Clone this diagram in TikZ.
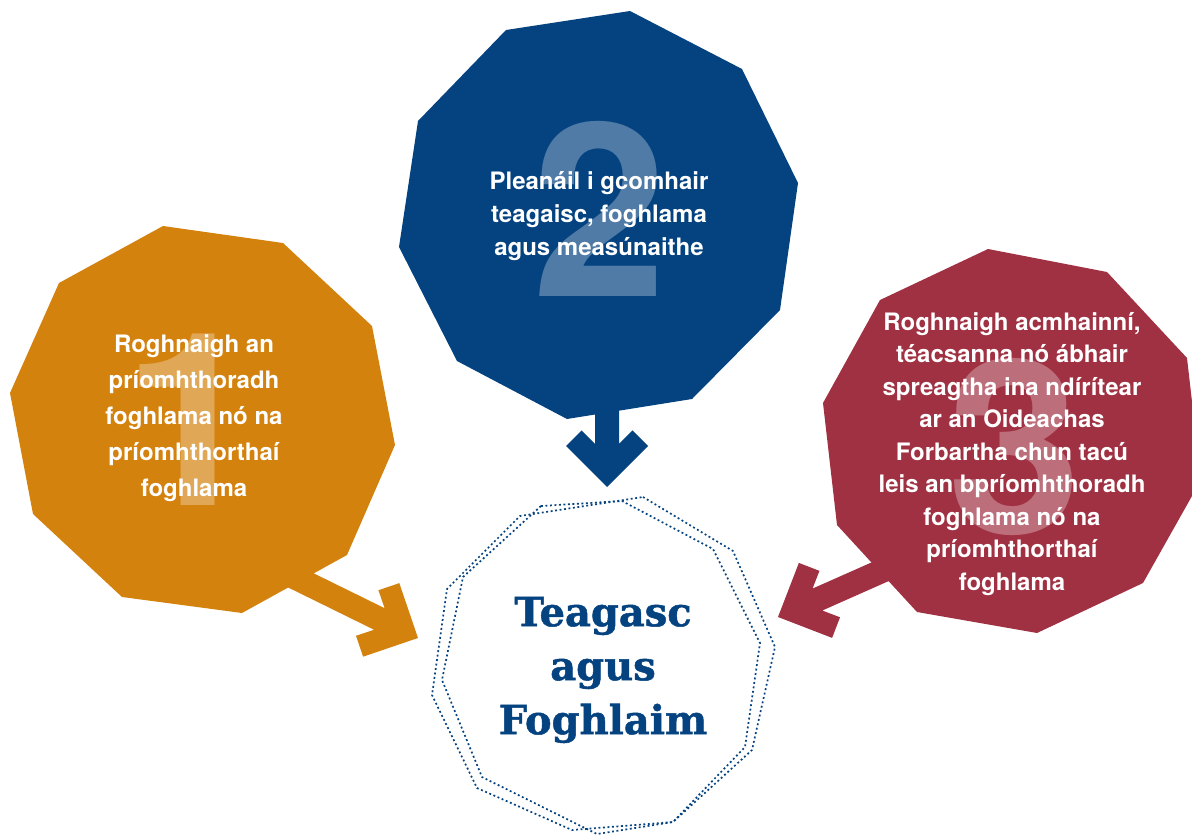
\documentclass[tikz,border=0pt]{standalone}
\usepackage{fontspec}
\setmainfont{TeX Gyre Heros}
\newfontfamily\slabfont{DejaVu Serif}[BoldFeatures={FakeBold=1.3}]
\definecolor{cOrange}{HTML}{D4820E}
\definecolor{cBlue}{HTML}{054380}
\definecolor{cRed}{HTML}{A03142}
\begin{document}
\begin{tikzpicture}[x=1pt,y=-1pt,
  steptext/.style={text=white, font=\bfseries\fontsize{24}{#1}\selectfont, align=center, inner sep=0pt},
  bignum/.style={text=white, text opacity=0.3, font=\bfseries\fontsize{242}{242}\selectfont, inner sep=0pt},
  dotline/.style={draw=cBlue, line width=1.7pt, dash pattern=on 1.9pt off 2.6pt},
  blockarrow/.pic={\fill[#1] (0,0) -- (-41,41) -- (-56.6,25.4) -- (-43.1,12) -- (-170,12)
      -- (-170,-12) -- (-43.1,-12) -- (-56.6,-25.4) -- (-41,-41) -- cycle;}
]
\useasboundingbox (0,0) rectangle (1192,835);
\clip (0,0) rectangle (1192,835);

% step polygons
\fill[cOrange] (163,226) -- (283,243) -- (372,326) -- (395,445) -- (347,555) -- (242,613)
  -- (122,597) -- (33,514) -- (10,393) -- (59,283) -- cycle;
\fill[cBlue] (630,11) -- (742,69) -- (798,183) -- (780,310) -- (692,399) -- (567,419)
  -- (457,361) -- (399,247) -- (418,121) -- (506,30) -- cycle;
\fill[cRed] (988,249) -- (1107,272) -- (1187,358) -- (1201,480) -- (1143,583) -- (1037,633)
  -- (917,612) -- (837,525) -- (823,403) -- (880,300) -- cycle;

% arrow tips
\coordinate (t1) at (418,638);
\coordinate (t2) at (607,487);
\coordinate (t3) at (778,617);
\pic[rotate=-26.2] at (t1) {blockarrow=cOrange};
\pic[rotate=-90] at (t2) {blockarrow=cBlue};
\pic[rotate=203.9] at (t3) {blockarrow=cRed};

% big numerals
\node[bignum] (n1) at (191,420) {1};
\node[bignum] (n2) at (600,209) {2};
\node[bignum] (n3) at (1015,447) {3};

% step texts
\node[steptext=36] (s1) at (194,418) {Roghnaigh an\\príomhthoradh\\foghlama nó na\\príomhthorthaí\\foghlama};
\node[steptext=33] (s2) at (599,216) {Pleanáil i gcomhair\\teagaisc, foghlama\\agus measúnaithe};
\node[steptext=32.5] (s3) at (1012,454) {Roghnaigh acmhainní,\\téacsanna nó ábhair\\spreagtha ina ndírítear\\ar an Oideachas\\Forbartha chun tacú\\leis an bpríomhthoradh\\foghlama nó na\\príomhthorthaí\\foghlama};

% central dotted polygons
\draw[dotline] (643,497) -- (733,551) -- (775,647) -- (752,750) -- (673,822) -- (572,830)
  -- (477,788) -- (432,695) -- (447,589) -- (520,516) -- cycle;
\draw[dotline] (541,506) -- (622,501) -- (713,549) -- (760,643) -- (745,747) -- (673,822)
  -- (597,834) -- (482,777) -- (442,680) -- (463,577) -- cycle;

\node[text=cBlue, font=\slabfont\bfseries\fontsize{40}{54}\selectfont, align=center, inner sep=0pt]
  (center) at (603,670) {Teagasc\\agus\\Foghlaim};
\end{tikzpicture}
\end{document}
